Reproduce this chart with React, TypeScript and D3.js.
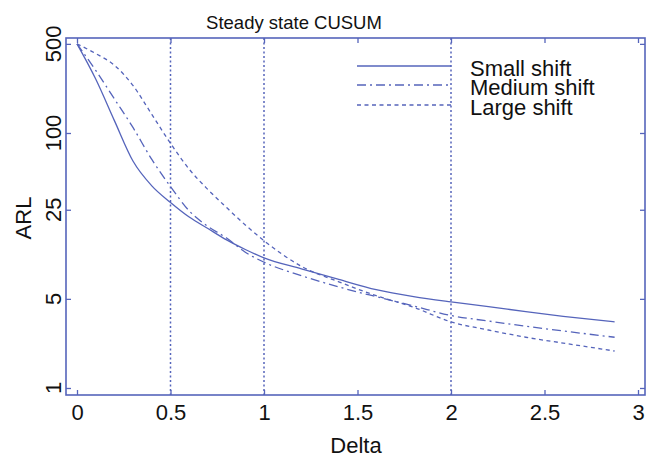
import React, { useEffect, useRef } from "react";
import * as d3 from "d3";

const deltas = [0, 0.1, 0.2, 0.3, 0.4, 0.5, 0.6, 0.7, 0.8, 0.9, 1.0, 1.2, 1.4, 1.6, 1.8, 2.0, 2.2, 2.4, 2.6, 2.875];
const smallShift = [500, 265, 125, 60, 38.5, 28.5, 21.9, 17.8, 14.5, 12.2, 10.5, 8.6, 7.1, 5.9, 5.2, 4.73, 4.35, 3.97, 3.65, 3.3];
const mediumShift = [500, 310, 185, 110, 62, 38, 24.5, 18.5, 15, 11.6, 9.7, 7.6, 6.2, 5.2, 4.4, 3.7, 3.35, 3.05, 2.8, 2.5];
const largeShift = [500, 420, 340, 235, 140, 83, 52, 36, 26, 19, 14.3, 9.0, 6.8, 5.3, 4.3, 3.3, 2.85, 2.5, 2.25, 1.95];
const seriesNames = ["Small shift", "Medium shift", "Large shift"];
const xTicks = [0, 0.5, 1, 1.5, 2, 2.5, 3];
const yTicks = [1, 5, 25, 100, 500];
const refLines = [0.5, 1, 2];

const COLOR = "#5564bb";
const FONT = "'Liberation Sans', Arial, sans-serif";

export default function App() {
  const ref = useRef<SVGSVGElement>(null);

  useEffect(() => {
    const svg = d3.select(ref.current);
    svg.selectAll("*").remove();
    const left = 66, right = 645, top = 38, bottom = 395;
    const x = d3.scaleLinear().domain([-11 / 187, 3 + 7 / 187]).range([left, right]);
    const y = d3.scaleLog().domain([0.881, 556]).range([bottom, top]);

    const g = svg.append("g");

    // reference lines
    refLines.forEach((v) => {
      g.append("line")
        .attr("x1", x(v)).attr("x2", x(v))
        .attr("y1", top).attr("y2", bottom)
        .attr("stroke", COLOR).attr("stroke-width", 1.5)
        .attr("stroke-dasharray", "2,2.5");
    });

    const styles = [
      { data: smallShift, dash: null },
      { data: mediumShift, dash: "9,4,2,4" },
      { data: largeShift, dash: "4,3.5" },
    ];
    const line = d3
      .line<[number, number]>()
      .x((d) => x(d[0]))
      .y((d) => y(d[1]))
      .curve(d3.curveMonotoneX);

    styles.forEach((s) => {
      const pts: [number, number][] = deltas.map((d, i) => [d, s.data[i]]);
      const p = g.append("path")
        .attr("d", line(pts) as string)
        .attr("fill", "none")
        .attr("stroke", COLOR)
        .attr("stroke-width", 1.3);
      if (s.dash) p.attr("stroke-dasharray", s.dash);
    });

    // axes (ticks inward)
    const fmt = (d: any) => String(d);
    const axB = g.append("g").attr("transform", `translate(0,${bottom})`)
      .call(d3.axisBottom(x).tickValues(xTicks).tickSizeInner(-5).tickSizeOuter(0).tickPadding(10).tickFormat(fmt));
    const axT = g.append("g").attr("transform", `translate(0,${top})`)
      .call(d3.axisTop(x).tickValues(xTicks).tickSizeInner(-5).tickSizeOuter(0).tickFormat(() => ""));
    const axL = g.append("g").attr("transform", `translate(${left},0)`)
      .call(d3.axisLeft(y).tickValues(yTicks).tickSizeInner(-5).tickSizeOuter(0).tickFormat(() => ""));
    const axR = g.append("g").attr("transform", `translate(${right},0)`)
      .call(d3.axisRight(y).tickValues(yTicks).tickSizeInner(-5).tickSizeOuter(0).tickFormat(() => ""));
    [axB, axT, axL, axR].forEach((a) => {
      a.select(".domain").remove();
      a.selectAll(".tick line").attr("stroke", COLOR).attr("stroke-width", 1.3);
    });
    axB.selectAll(".tick text")
      .attr("fill", "#111").attr("font-size", 22).attr("font-family", FONT)
      .attr("dy", null).attr("y", 25);

    // y tick labels rotated
    yTicks.forEach((v) => {
      g.append("text")
        .attr("transform", `translate(61,${y(v)}) rotate(-90)`)
        .attr("text-anchor", "middle")
        .attr("font-size", 22).attr("font-family", FONT).attr("fill", "#111")
        .text(String(v));
    });

    // box
    g.append("rect")
      .attr("x", left).attr("y", top)
      .attr("width", right - left).attr("height", bottom - top)
      .attr("fill", "none").attr("stroke", COLOR).attr("stroke-width", 1.6);

    // title & labels
    g.append("text").attr("x", 294).attr("y", 29).attr("text-anchor", "middle")
      .attr("font-size", 18.5).attr("font-family", FONT).attr("fill", "#111")
      .text("Steady state CUSUM");
    g.append("text").attr("x", 356).attr("y", 453).attr("text-anchor", "middle")
      .attr("font-size", 22).attr("font-family", FONT).attr("fill", "#111")
      .text("Delta");
    g.append("text").attr("transform", `translate(31,218) rotate(-90)`).attr("text-anchor", "middle")
      .attr("font-size", 22).attr("font-family", FONT).attr("fill", "#111")
      .text("ARL");

    // legend
    const legY = [66, 85, 105];
    styles.forEach((s, i) => {
      const l = g.append("line")
        .attr("x1", 357).attr("x2", 451)
        .attr("y1", legY[i]).attr("y2", legY[i])
        .attr("stroke", COLOR).attr("stroke-width", 1.3);
      if (s.dash) l.attr("stroke-dasharray", s.dash);
      g.append("text")
        .attr("x", 470).attr("y", legY[i] + 10)
        .attr("font-size", 22).attr("font-family", FONT).attr("fill", "#111")
        .text(seriesNames[i]);
    });
  }, []);

  return (
    <svg
      ref={ref}
      width={646}
      height={455}
      style={{ position: "absolute", left: 0, top: 0, background: "#fff" }}
    />
  );
}
